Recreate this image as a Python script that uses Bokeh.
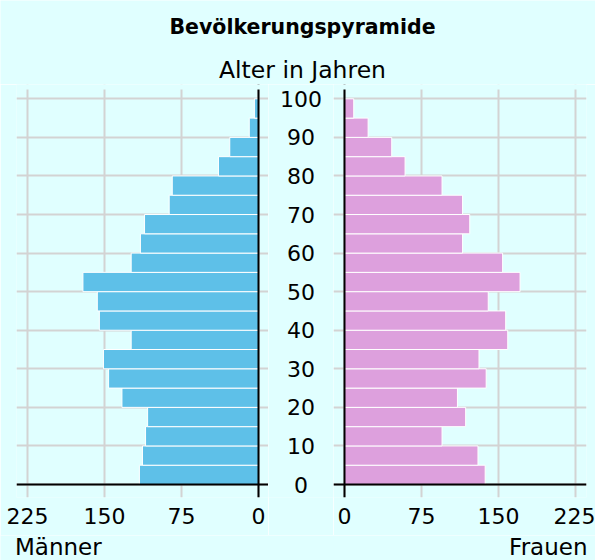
from bokeh.plotting import figure
from bokeh.models import Range1d, FixedTicker, Span, ColumnDataSource, LabelSet, BoxAnnotation
from bokeh.layouts import row, column
from bokeh.core.properties import value
from bokeh.embed import file_html
from bokeh.resources import INLINE

# ---------------- data ----------------
age_groups = ["0-4", "5-9", "10-14", "15-19", "20-24", "25-29", "30-34", "35-39",
              "40-44", "45-49", "50-54", "55-59", "60-64", "65-69", "70-74", "75-79",
              "80-84", "85-89", "90-94", "95-99"]
age_start = [0, 5, 10, 15, 20, 25, 30, 35, 40, 45, 50, 55, 60, 65, 70, 75, 80, 85, 90, 95]
men = [116, 113, 110, 108, 133, 146, 151, 124, 155, 157,
       171, 124, 115, 111, 87, 84, 39, 28, 9, 4]
women = [137, 130, 95, 118, 110, 138, 131, 159, 157, 140,
         171, 154, 115, 122, 115, 95, 59, 46, 23, 9]
x_ticks = [0, 75, 150, 225]
age_ticks = [0, 10, 20, 30, 40, 50, 60, 70, 80, 90, 100]
age_tick_labels = ["0", "10", "20", "30", "40", "50", "60", "70", "80", "90", "100"]

title_text = "Bevölkerungspyramide"
subtitle_text = "Alter in Jahren"
men_label = "Männer"
women_label = "Frauen"

# ---------------- style ----------------
BG = "#E0FFFF"
MEN_COLOR = "#5EC0E8"
WOMEN_COLOR = "#DDA0DD"
GRID = "#D3D3D3"
FONT = "DejaVu Sans"
W = 595
HEAD_H = 84
ROW_H = 451
FOOT_H = 25
ROW_BOTTOM = 38
Y_MIN = -3.37
Y_MAX = 103.71
GRID_TOP = 102.41   # grid lines end here (top of the plotting area)

age_mid = [a + 2.5 for a in age_start]


def style(p):
    p.background_fill_color = BG
    p.border_fill_color = BG
    p.outline_line_color = None


def side(width, x_start, x_end, vals, color, mb_left, mb_right):
    p = figure(width=width, height=ROW_H,
               x_range=Range1d(x_start, x_end), y_range=Range1d(Y_MIN, Y_MAX),
               output_backend="svg", toolbar_location=None,
               y_axis_location=None, x_axis_location="below")
    p.min_border_top = 0
    p.min_border_bottom = ROW_BOTTOM
    p.min_border_left = mb_left
    p.min_border_right = mb_right
    style(p)
    src = ColumnDataSource(dict(y=age_mid, v=vals, g=age_groups))
    p.hbar(y="y", left=0, right="v", height=5, source=src,
           fill_color=color, line_color="white", line_width=1)
    p.xgrid.ticker = FixedTicker(ticks=x_ticks)
    p.ygrid.ticker = FixedTicker(ticks=age_ticks)
    for g in (p.xgrid, p.ygrid):
        g.grid_line_color = GRID
        g.grid_line_width = 2
    ax = p.xaxis[0]
    ax.ticker = FixedTicker(ticks=x_ticks)
    ax.axis_line_color = None
    ax.major_tick_line_color = None
    ax.major_tick_out = 0
    ax.major_tick_in = 0
    ax.minor_tick_line_color = None
    ax.major_label_text_font = FONT
    ax.major_label_text_font_size = "22px"
    ax.major_label_text_color = "black"
    ax.major_label_standoff = 10
    # zero line of the value axis and the baseline (age 0)
    p.add_layout(Span(location=0, dimension="height", line_color="black", line_width=2))
    p.add_layout(Span(location=0, dimension="width", line_color="black", line_width=2))
    # keep the strip above the plotting area clear
    p.add_layout(BoxAnnotation(bottom=GRID_TOP, fill_color=BG, fill_alpha=1.0,
                               line_color=None))
    return p


def blank(width, height, xr, yr):
    p = figure(width=width, height=height, x_range=xr, y_range=yr,
               x_axis_location=None, y_axis_location=None,
               output_backend="svg", toolbar_location=None)
    p.min_border = 0
    p.min_border_left = 0
    p.min_border_right = 0
    p.min_border_top = 0
    p.min_border_bottom = 0
    p.grid.visible = False
    style(p)
    return p


# left (men), reversed axis
left = side(268, 235.7, -9.74, men, MEN_COLOR, 16, 0)
# right (women)
right = side(262, -10.71, 235.7, women, WOMEN_COLOR, 0, 9)

# middle age labels
mid = figure(width=65, height=ROW_H, x_range=Range1d(0, 1), y_range=Range1d(Y_MIN, Y_MAX),
             x_axis_location=None, y_axis_location=None,
             output_backend="svg", toolbar_location=None)
mid.min_border_left = 0
mid.min_border_right = 0
mid.min_border_top = 0
mid.min_border_bottom = ROW_BOTTOM
mid.grid.visible = False
style(mid)
mid_src = ColumnDataSource(dict(x=[0.5] * len(age_ticks), y=age_ticks, t=age_tick_labels))
mid.add_layout(LabelSet(x="x", y="y", text="t", source=mid_src,
                        text_font=value(FONT), text_font_size=value("22px"),
                        text_align="center", text_baseline="middle",
                        text_color="black"))

# header
header = blank(W, HEAD_H, Range1d(0, W), Range1d(HEAD_H, 0))
header.text(x=[302], y=[26.7], text=[title_text], text_font=value(FONT),
            text_font_style="bold", text_font_size="20.5px", text_align="center",
            text_baseline="middle", text_color="black")
header.text(x=[302], y=[69.5], text=[subtitle_text], text_font=value(FONT),
            text_font_size="23.5px", text_align="center",
            text_baseline="middle", text_color="black")

# footer
footer = blank(W, FOOT_H, Range1d(0, W), Range1d(FOOT_H, 0))
footer.text(x=[14.5], y=[11.5], text=[men_label], text_font=value(FONT),
            text_font_size="23px", text_align="left",
            text_baseline="middle", text_color="black")
footer.text(x=[587], y=[11.5], text=[women_label], text_font=value(FONT),
            text_font_size="23px", text_align="right",
            text_baseline="middle", text_color="black")

layout = column(header, row(left, mid, right), footer)

open("out.html", "w").write(file_html(layout, INLINE))
